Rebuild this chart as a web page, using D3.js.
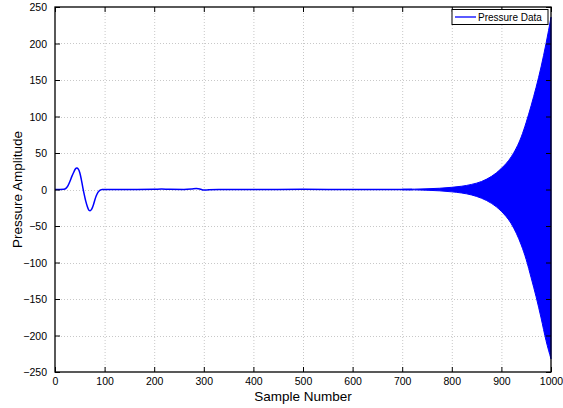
<!DOCTYPE html>
<html><head><meta charset="utf-8">
<script src="https://cdn.jsdelivr.net/npm/d3@7"></script>
<style>body{margin:0;background:#fff}svg{display:block}text{font-family:"Liberation Sans",Arial,sans-serif}</style>
</head><body><svg id="c" width="563" height="408"></svg>
<script>
// Pulse and quiet part of the signal (sample index, amplitude)
const lineSamples = [0,10,18,22,26,30,34,38,41,44,47,50,53,56,59,62,65,68,71,74,77,80,83,86,89,92,95,100,150,200,215,230,260,275,285,292,300,310,330,400,500,600,700,720];
const lineValues  = [0,0,0.2,1.5,5,11,18,24,28,29.5,28,23,14,3,-7,-16,-23,-28,-29,-27,-22,-15,-9,-4.5,-2,-0.6,0,0,0,0.3,0.6,0.2,0,0.6,1.4,0.8,-0.8,-0.4,0,0,0.2,0,0,0];
// Envelope of the growing oscillation (sample index, upper / lower amplitude)
const envSamples = [700,725,750,775,800,820,840,860,880,900,920,940,950,960,970,980,990,1000];
const envUpper   = [0.3,0.5,1,1.7,3,4.5,7,11,18,29,45,72,92,115,140,168,200,236];
const envLower   = [-0.3,-0.5,-1,-1.8,-3.2,-4.8,-7.5,-12,-19,-30,-47,-76,-96,-121,-147,-176,-207,-232];
const xTicks = [0,100,200,300,400,500,600,700,800,900,1000];
const yTicks = [-250,-200,-150,-100,-50,0,50,100,150,200,250];
const seriesName = "Pressure Data";

const L=55,R=551,T=7,B=372;
const svg=d3.select("#c");
const x=d3.scaleLinear().domain([0,1000]).range([L,R]);
const y=d3.scaleLinear().domain([-250,250]).range([B,T]);
const fmt=d=>d<0?"\u2212"+Math.abs(d):String(d);

// grid
const g=svg.append("g");
g.selectAll(".gx").data(xTicks.slice(1,-1)).enter().append("line")
 .attr("x1",d=>x(d)+0.5).attr("x2",d=>x(d)+0.5).attr("y1",T).attr("y2",B)
 .attr("stroke","#c8c8c8").attr("stroke-width",1).attr("stroke-dasharray","1,2");
g.selectAll(".gy").data(yTicks.slice(1,-1)).enter().append("line")
 .attr("y1",d=>Math.round(y(d))+0.5).attr("y2",d=>Math.round(y(d))+0.5).attr("x1",L).attr("x2",R)
 .attr("stroke","#c8c8c8").attr("stroke-width",1).attr("stroke-dasharray","1,2");

// data
const lineData=lineSamples.map((s,i)=>[s,lineValues[i]]);
svg.append("path").datum(lineData)
 .attr("d",d3.line().x(d=>x(d[0])).y(d=>y(d[1])).curve(d3.curveMonotoneX))
 .attr("fill","none").attr("stroke","#0000ff").attr("stroke-width",1.5);
const envData=envSamples.map((s,i)=>[s,envUpper[i],envLower[i]]);
svg.append("path").datum(envData)
 .attr("d",d3.area().x(d=>x(d[0])).y0(d=>y(d[2])).y1(d=>y(d[1])).curve(d3.curveMonotoneX))
 .attr("fill","#0000ff").attr("stroke","#0000ff").attr("stroke-width",1);

// axes
const ax=svg.append("g").attr("transform",`translate(0,${B})`)
 .call(d3.axisBottom(x).tickValues(xTicks).tickSize(-5).tickPadding(8).tickFormat(fmt));
const axT=svg.append("g").attr("transform",`translate(0,${T})`)
 .call(d3.axisTop(x).tickValues(xTicks).tickSize(-5).tickFormat(""));
const ay=svg.append("g").attr("transform",`translate(${L},0)`)
 .call(d3.axisLeft(y).tickValues(yTicks).tickSize(-5).tickPadding(8).tickFormat(fmt));
const ayR=svg.append("g").attr("transform",`translate(${R},0)`)
 .call(d3.axisRight(y).tickValues(yTicks).tickSize(-5).tickFormat(""));
[ax,axT,ay,ayR].forEach(a=>{a.select(".domain").remove();a.selectAll("line").attr("stroke","#000");
 a.selectAll("text").attr("font-size",10.5).attr("fill","#000").style("font-family","Liberation Sans, Arial, sans-serif");});
ay.selectAll("text").attr("dy","0.35em");
ax.selectAll("text").attr("dy","0.45em");
svg.append("rect").attr("x",L).attr("y",T).attr("width",R-L).attr("height",B-T)
 .attr("fill","none").attr("stroke","#000").attr("stroke-width",1.3);

// labels
svg.append("text").attr("x",(L+R)/2).attr("y",401).attr("text-anchor","middle")
 .attr("font-size",13.5).text("Sample Number");
svg.append("text").attr("transform",`translate(22,${(T+B)/2}) rotate(-90)`).attr("text-anchor","middle")
 .attr("font-size",13.5).text("Pressure Amplitude");

// legend
const lg=svg.append("g");
lg.append("rect").attr("x",452).attr("y",9.5).attr("width",96).attr("height",15)
 .attr("fill","#fff").attr("stroke","#000").attr("stroke-width",1);
lg.append("line").attr("x1",455).attr("x2",476).attr("y1",17).attr("y2",17).attr("stroke","#0000ff").attr("stroke-width",1.3);
lg.append("text").attr("x",478).attr("y",17).attr("dy","0.35em").attr("font-size",10).text(seriesName);
</script></body></html>
